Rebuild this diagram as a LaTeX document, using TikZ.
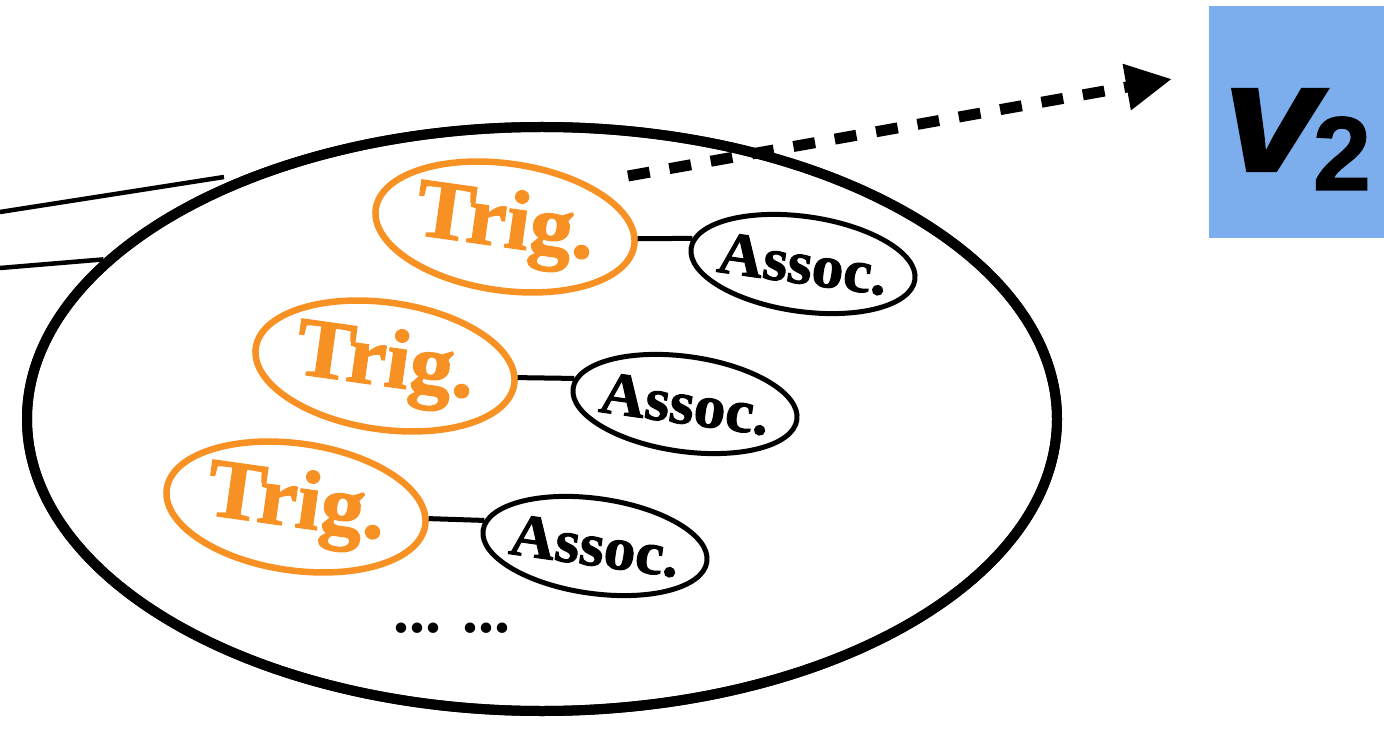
\documentclass[tikz,border=0pt]{standalone}
\usepackage{fontspec}
\setmainfont{Liberation Serif}
\setsansfont{Liberation Sans}
\newfontfamily\heavyserif{Liberation Serif}[BoldFeatures={FakeBold=1.5}]
\newfontfamily\heavysans{Liberation Sans}[BoldItalicFeatures={FakeBold=1.5},BoldFeatures={FakeBold=1}]
\usetikzlibrary{shapes.geometric,arrows.meta}
\definecolor{trigorange}{RGB}{248,145,36}
\definecolor{vblue}{RGB}{124,173,236}

\begin{document}
\begin{tikzpicture}[x=1pt,y=-1pt,
  trigbox/.style={ellipse, draw=trigorange, line width=6.5pt,
    minimum width=261pt, minimum height=127pt, inner sep=0pt, rotate=-8,
    text=trigorange, font=\fontsize{84}{84}\heavyserif\bfseries},
  assocbox/.style={ellipse, draw=black, line width=5pt,
    minimum width=226pt, minimum height=95pt, inner sep=0pt, rotate=-8,
    font=\fontsize{61}{61}\heavyserif\bfseries},
  link/.style={line width=5pt},
  edgeline/.style={line width=4.5pt},
  bigring/.style={ellipse, draw, line width=10pt, minimum width=1030pt,
    minimum height=584pt, inner sep=0pt},
  flow/.style={line width=11pt, dash pattern=on 22pt off 20pt,
    -{Triangle[length=46pt,width=44pt]}}]

\useasboundingbox (0,0) rectangle (1384,735);

% outer group
\node[bigring] (big) at (542,419) {};

% incoming lines on the left
\coordinate (l1a) at (0,212);
\coordinate (l1b) at (224,177);
\coordinate (l2a) at (0,268);
\draw[edgeline] (l1a) -- (l1b);
\draw[edgeline] (l2a) -- (big.160);
% redraw the outer ellipse on top of the line ends
\node[bigring] at (big.center) {};

% trigger / association pairs
\node[trigbox] (t1) at (505,227) {\makebox[0pt]{\scalebox{1.04}[1]{Trig.}}};
\node[assocbox] (a1) at (803,264) {\makebox[0pt]{\scalebox{1.04}[1]{Assoc.}}};
\node[trigbox] (t2) at (385,366) {\makebox[0pt]{\scalebox{1.04}[1]{Trig.}}};
\node[assocbox] (a2) at (685,404) {\makebox[0pt]{\scalebox{1.04}[1]{Assoc.}}};
\node[trigbox] (t3) at (296,507) {\makebox[0pt]{\scalebox{1.04}[1]{Trig.}}};
\node[assocbox] (a3) at (595,546) {\makebox[0pt]{\scalebox{1.04}[1]{Assoc.}}};

\draw[link] (t1.3) -- (a1.175);
\draw[link] (t2.3) -- (a2.175);
\draw[link] (t3.3) -- (a3.175);

\node[font=\fontsize{64}{64}\selectfont\bfseries, anchor=base, inner sep=0pt]
  (dots) at (452,632) {... ...};

% target vertex
\node[fill=vblue, minimum width=175pt, minimum height=232pt, inner sep=0pt]
  (v2) at (1296.5,122) {};
\node[anchor=base west, inner sep=0pt, font=\heavysans\bfseries]
  (v2lbl) at (1223,171)
  {\scalebox{1.12}[1]{\fontsize{155}{155}\selectfont\itshape v}\kern-7pt\raisebox{-19pt}{\fontsize{105}{105}\selectfont 2}};

% dashed arrow towards the vertex
\coordinate (fs) at (628,176);
\coordinate (fe) at (1172,79);
\draw[flow] (fs) -- (fe);

\end{tikzpicture}
\end{document}
